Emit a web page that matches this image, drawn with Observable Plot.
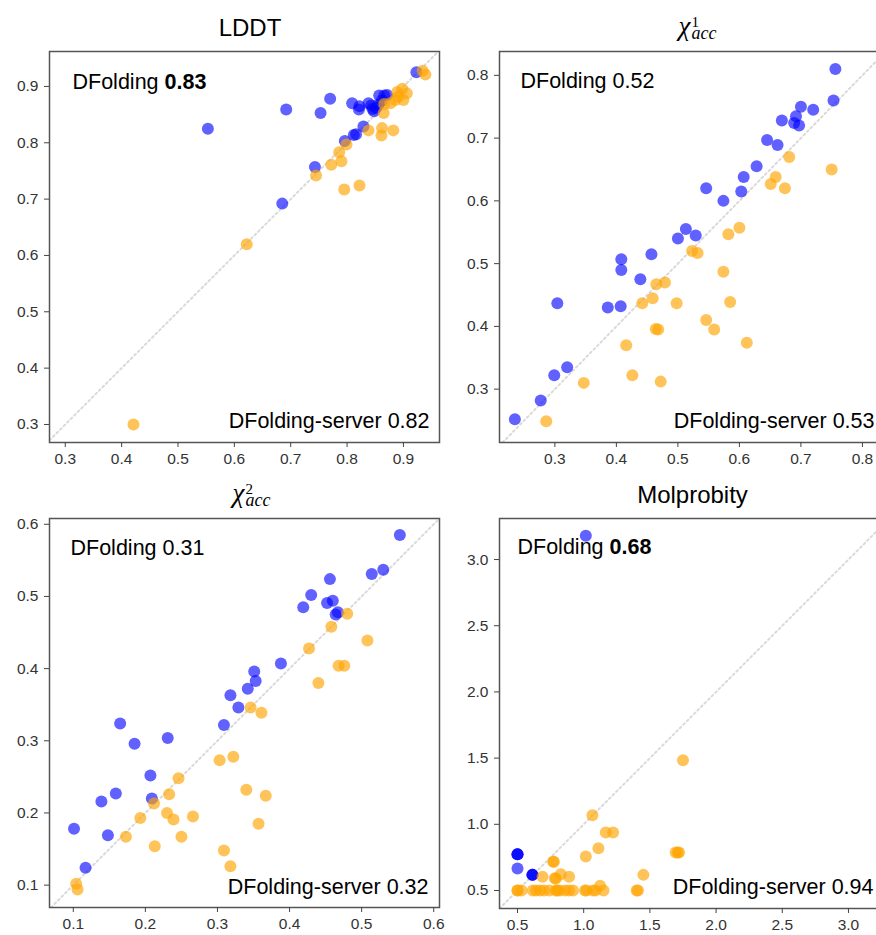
<!DOCTYPE html>
<html><head><meta charset="utf-8">
<script src="https://cdn.jsdelivr.net/npm/d3@7"></script>
<script src="https://cdn.jsdelivr.net/npm/@observablehq/plot@0.6"></script>
<style>
html,body{margin:0;padding:0;background:#fff;overflow:hidden}
#root{position:relative;width:876px;height:935px;overflow:hidden;font-family:"Liberation Sans",Arial,sans-serif;background:#fff}
.panel{position:absolute;width:450px}
.panel svg{max-width:none !important}
.t{position:absolute;white-space:nowrap;line-height:1;color:#000}
.serif{font-family:"Liberation Serif","Times New Roman",serif}
.scripts{position:absolute;white-space:pre;font-family:"Liberation Serif","Times New Roman",serif;font-style:italic;font-size:18px;line-height:11px;color:#000}
.scripts::first-line{font-style:normal;font-size:15px}
</style></head><body><div id="root"></div><script>
// ---------- data ----------
const titles = ["LDDT", "chi1", "chi2", "Molprobity"];
const scoresDFolding = ["0.83", "0.52", "0.31", "0.68"];
const boldDFolding = [true, false, false, true];
const scoresServer = ["0.82", "0.53", "0.32", "0.94"];

const lddtTicks = [0.3, 0.4, 0.5, 0.6, 0.7, 0.8, 0.9];
const chi1Ticks = [0.3, 0.4, 0.5, 0.6, 0.7, 0.8];
const chi2Ticks = [0.1, 0.2, 0.3, 0.4, 0.5, 0.6];
const molTicks = [0.5, 1.0, 1.5, 2.0, 2.5, 3.0];

const lddtDFolding = [[0.553,0.825],[0.692,0.859],[0.753,0.853],[0.770,0.878],[0.809,0.870],[0.822,0.865],[0.821,0.859],[0.838,0.870],[0.845,0.860],[0.848,0.856],[0.852,0.862],[0.843,0.866],[0.856,0.868],[0.857,0.884],[0.862,0.875],[0.871,0.885],[0.866,0.884],[0.923,0.925],[0.829,0.829],[0.816,0.815],[0.812,0.814],[0.796,0.803],[0.743,0.757],[0.685,0.692]];
const lddtServer = [[0.421,0.300],[0.622,0.620],[0.745,0.742],[0.772,0.761],[0.790,0.767],[0.786,0.783],[0.799,0.797],[0.795,0.717],[0.822,0.724],[0.838,0.822],[0.862,0.826],[0.861,0.813],[0.882,0.822],[0.865,0.853],[0.866,0.869],[0.877,0.870],[0.886,0.876],[0.889,0.890],[0.898,0.896],[0.906,0.888],[0.900,0.876],[0.891,0.882],[0.934,0.928],[0.939,0.921]];

const chi1DFolding = [[0.235,0.252],[0.277,0.282],[0.299,0.322],[0.320,0.335],[0.304,0.437],[0.386,0.430],[0.407,0.432],[0.408,0.490],[0.408,0.507],[0.439,0.475],[0.457,0.515],[0.500,0.540],[0.513,0.555],[0.529,0.545],[0.546,0.620],[0.574,0.600],[0.603,0.615],[0.607,0.638],[0.628,0.655],[0.645,0.697],[0.662,0.689],[0.669,0.728],[0.689,0.724],[0.692,0.735],[0.697,0.720],[0.700,0.750],[0.720,0.745],[0.753,0.760],[0.756,0.810]];
const chi1Server = [[0.286,0.249],[0.347,0.310],[0.416,0.370],[0.426,0.322],[0.472,0.312],[0.442,0.437],[0.459,0.445],[0.465,0.467],[0.479,0.470],[0.464,0.396],[0.468,0.395],[0.498,0.437],[0.523,0.520],[0.532,0.517],[0.574,0.487],[0.585,0.439],[0.546,0.410],[0.559,0.395],[0.612,0.374],[0.582,0.547],[0.600,0.557],[0.651,0.627],[0.659,0.638],[0.674,0.620],[0.681,0.670],[0.750,0.650]];

const chi2DFolding = [[0.101,0.178],[0.117,0.124],[0.139,0.216],[0.148,0.169],[0.159,0.227],[0.165,0.324],[0.185,0.296],[0.207,0.252],[0.209,0.220],[0.231,0.304],[0.309,0.322],[0.318,0.363],[0.329,0.346],[0.342,0.372],[0.351,0.396],[0.353,0.383],[0.388,0.407],[0.419,0.485],[0.430,0.502],[0.452,0.491],[0.460,0.494],[0.456,0.524],[0.464,0.475],[0.467,0.478],[0.514,0.531],[0.530,0.537],[0.553,0.585]];
const chi2Server = [[0.104,0.102],[0.106,0.094],[0.173,0.167],[0.193,0.193],[0.212,0.213],[0.213,0.154],[0.230,0.200],[0.233,0.226],[0.239,0.191],[0.246,0.248],[0.250,0.167],[0.266,0.195],[0.303,0.273],[0.322,0.278],[0.309,0.148],[0.318,0.126],[0.340,0.232],[0.357,0.185],[0.367,0.224],[0.346,0.346],[0.361,0.339],[0.427,0.428],[0.440,0.380],[0.458,0.458],[0.468,0.404],[0.476,0.404],[0.480,0.476],[0.508,0.439]];

const molDFolding = [[1.016,3.179],[0.5,0.774],[0.5,0.774],[0.5,0.774],[0.5,0.666],[0.613,0.618],[0.613,0.618],[0.613,0.618]];
const molServer = [[0.5,0.5],[0.5,0.5],[0.53,0.5],[0.615,0.5],[0.64,0.5],[0.67,0.5],[0.70,0.5],[0.74,0.5],[0.79,0.5],[0.80,0.5],[0.82,0.5],[0.86,0.5],[0.89,0.5],[0.92,0.5],[1.01,0.5],[1.02,0.5],[1.07,0.5],[1.09,0.5],[1.15,0.5],[1.40,0.5],[1.41,0.5],[0.689,0.603],[0.769,0.717],[0.775,0.717],[0.782,0.593],[0.79,0.59],[0.827,0.623],[0.890,0.603],[1.016,0.757],[1.066,1.069],[1.111,0.820],[1.124,0.535],[1.167,0.938],[1.222,0.938],[1.451,0.618],[1.695,0.787],[1.71,0.787],[1.72,0.787],[1.75,1.484]];

// ---------- layout ----------
const panels = [
  {left:0,   top:45,  mt:6, innerH:391, mb:25, xDomain:[0.272,0.964], yDomain:[0.268,0.962], ticks:lddtTicks, blue:lddtDFolding, orange:lddtServer, a:[23,37], b:[-10,-15]},
  {left:450, top:45,  mt:6, innerH:391, mb:25, xDomain:[0.210,0.844], yDomain:[0.215,0.838], ticks:chi1Ticks, blue:chi1DFolding, orange:chi1Server, a:[21,36], b:[-15,-15]},
  {left:0,   top:512, mt:6, innerH:389, mb:29, xDomain:[0.067,0.608], yDomain:[0.069,0.608], ticks:chi2Ticks, blue:chi2DFolding, orange:chi2Server, a:[21,36], b:[-11,-14]},
  {left:450, top:512, mt:6, innerH:390, mb:28, xDomain:[0.364,3.31],  yDomain:[0.364,3.31],  ticks:molTicks,  blue:molDFolding,  orange:molServer,  a:[18,35], b:[-16,-15]}
];

const root = document.getElementById("root");
const fmt = d3.format(".1f");
const FONT = "Liberation Sans, Arial, sans-serif";

panels.forEach((p, i) => {
  const lo = Math.max(p.xDomain[0], p.yDomain[0]);
  const hi = Math.min(p.xDomain[1], p.yDomain[1]);
  const diag = [[lo, lo], [hi, hi]];
  const labelA = "DFolding " + scoresDFolding[i];
  const labelB = "DFolding-server " + scoresServer[i];
  const svg = Plot.plot({
    width: 450,
    height: p.mt + p.innerH + p.mb,
    marginLeft: 49, marginRight: 11, marginTop: p.mt, marginBottom: p.mb,
    style: {fontFamily: FONT, fontSize: "15.5px", color: "#333", background: "transparent", overflow: "visible", maxWidth: "none"},
    x: {domain: p.xDomain},
    y: {domain: p.yDomain},
    marks: [
      Plot.line(diag, {x: d => d[0], y: d => d[1], stroke: "#dadada", strokeWidth: 2, strokeDasharray: "2,3", clip: true}),
      Plot.dot(p.blue, {x: d => d[0], y: d => d[1], r: 6, fill: "#0000ff", fillOpacity: 0.62, stroke: "none"}),
      Plot.dot(p.orange, {x: d => d[0], y: d => d[1], r: 6, fill: "#ffa500", fillOpacity: 0.65, stroke: "none"}),
      Plot.frame({stroke: "#555", strokeWidth: 1.5}),
      Plot.axisX(p.ticks, {tickFormat: fmt, tickSize: 5, tickPadding: 5, label: null, fontSize: 15.5, stroke: "#444"}),
      Plot.axisY(p.ticks, {tickFormat: fmt, tickSize: 5, tickPadding: 6, label: null, fontSize: 15.5, stroke: "#444"}),
      Plot.text([labelA], {frameAnchor: "top-left", textAnchor: "start", lineAnchor: "bottom", dx: p.a[0], dy: p.a[1], fontSize: 21.5, fill: "#000"}),
      Plot.text([labelB], {frameAnchor: "bottom-right", textAnchor: "end", lineAnchor: "bottom", dx: p.b[0], dy: p.b[1], fontSize: 21.5, fill: "#000"})
    ]
  });
  if (boldDFolding[i]) {
    svg.querySelectorAll("text").forEach(t => {
      if (t.textContent === labelA) {
        t.textContent = "";
        const ns = "http://www.w3.org/2000/svg";
        const s1 = document.createElementNS(ns, "tspan");
        s1.textContent = "DFolding\u00a0";
        const s2 = document.createElementNS(ns, "tspan");
        s2.setAttribute("font-weight", "bold");
        s2.textContent = scoresDFolding[i];
        t.appendChild(s1); t.appendChild(s2);
      }
    });
  }
  const wrap = document.createElement("div");
  wrap.className = "panel";
  wrap.style.left = p.left + "px";
  wrap.style.top = p.top + "px";
  wrap.appendChild(svg);
  root.appendChild(wrap);
});

// ---------- titles ----------
function addText(txt, x, baseline, size, opts = {}) {
  const s = document.createElement("span");
  s.className = "t" + (opts.serif ? " serif" : "");
  s.textContent = txt;
  s.style.fontSize = size + "px";
  const asc = opts.serif ? 0.8375 : 0.8465;
  s.style.top = (baseline - asc * size) + "px";
  s.style.left = x + "px";
  if (opts.center) s.style.transform = "translateX(-50%)";
  if (opts.italic) s.style.fontStyle = "italic";
  root.appendChild(s);
  return s;
}
addText(titles[0], 250, 36, 24, {center: true});
addText(titles[3], 692.5, 503, 24, {center: true});

// chi^k_acc : chi, then one text block holding superscript (line 1) and subscript (line 2)
function chiTitle(sup, center, base) {
  const chi = addText("\u03c7", 0, base, 27, {serif: true, italic: true});
  const sc = document.createElement("div");
  sc.className = "scripts";
  sc.textContent = sup + "\nacc";
  root.appendChild(sc);
  sc.style.top = (base - 7 - 11.6) + "px";
  const wc = chi.getBoundingClientRect().width;
  const ws = sc.getBoundingClientRect().width;
  const x0 = center - (wc + 1 + ws) / 2;
  chi.style.left = x0 + "px";
  sc.style.left = (x0 + wc + 1) + "px";
}
chiTitle("1", 695, 36);
chiTitle("2", 249, 503);
</script></body></html>
